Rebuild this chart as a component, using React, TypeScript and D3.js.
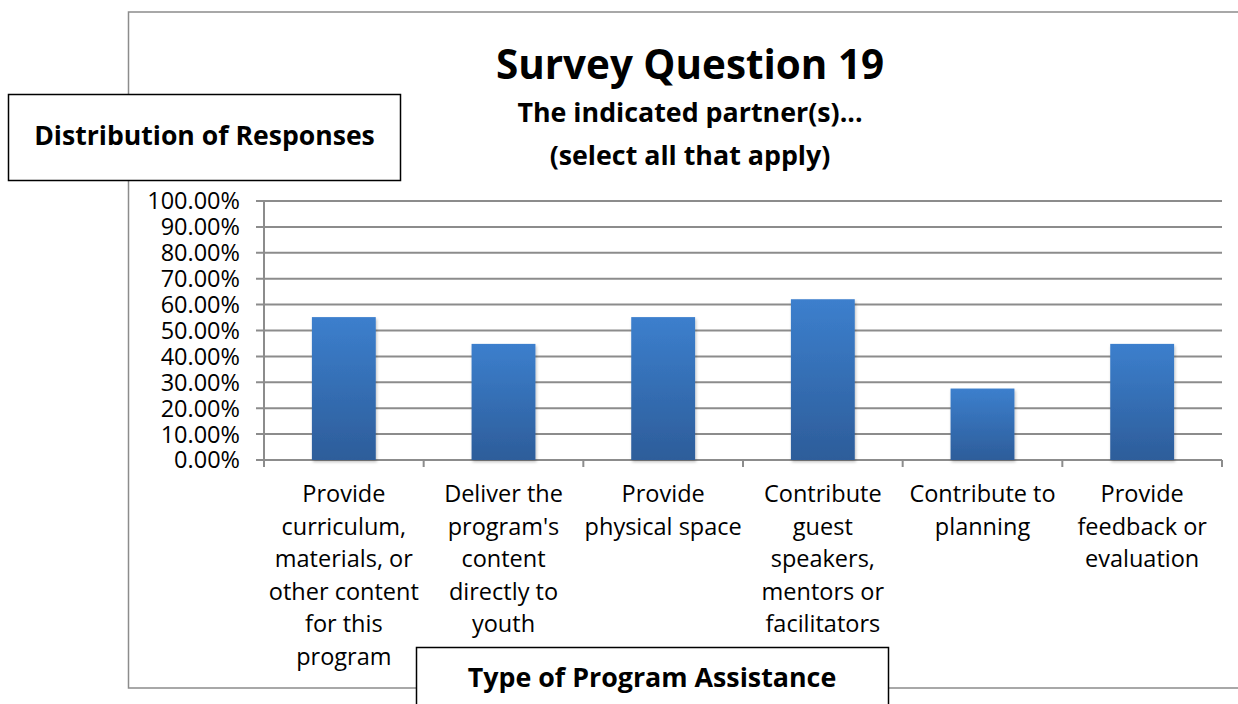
import React from "react";
import * as d3 from "d3";

const categories: string[][] = [
  ["Provide", "curriculum,", "materials, or", "other content", "for this", "program"],
  ["Deliver the", "program's", "content", "directly to", "youth"],
  ["Provide", "physical space"],
  ["Contribute", "guest", "speakers,", "mentors or", "facilitators"],
  ["Contribute to", "planning"],
  ["Provide", "feedback or", "evaluation"],
];
const values: number[] = [0.5517, 0.4483, 0.5517, 0.6207, 0.2759, 0.4483];
const yTicks: number[] = [0, 0.1, 0.2, 0.3, 0.4, 0.5, 0.6, 0.7, 0.8, 0.9, 1.0];
const title = "Survey Question 19";
const subtitle = ["The indicated partner(s)...", "(select all that apply)"];
const yTitle = "Distribution of Responses";
const xTitle = "Type of Program Assistance";

const W = 1238;
const H = 704;
const FONT = "'Open Sans', Lato, sans-serif";

export default function App() {
  const plotL = 264, plotR = 1222, plotT = 201, plotB = 460;
  const x = d3.scaleBand<number>().domain(d3.range(values.length)).range([plotL, plotR]).paddingInner(0.6).paddingOuter(0.3);
  const xs = d3.scaleBand<number>().domain(d3.range(values.length)).range([plotL, plotR]);
  const y = d3.scaleLinear().domain([0, 1]).range([plotB, plotT]);
  const fmt = d3.format(".2%");
  const gray = "#8c8c8c";

  return (
    <svg width={W} height={H} style={{ position: "absolute", left: 0, top: 0, background: "#fff" }} fontFamily={FONT}>
      <defs>
        <linearGradient id="barGrad" x1="0" y1="0" x2="0" y2="1">
          <stop offset="0%" stopColor="#3c7fcd" />
          <stop offset="100%" stopColor="#2d5d9a" />
        </linearGradient>
        <filter id="shadow" x="-20%" y="-10%" width="140%" height="130%">
          <feDropShadow dx="1" dy="2" stdDeviation="1.5" floodColor="#000" floodOpacity="0.25" />
        </filter>
      </defs>
      <rect x={0} y={0} width={W} height={H} fill="#fff" />
      <path d={`M1240,12 L128.5,12 L128.5,688 L1240,688`} fill="none" stroke={gray} strokeWidth={1.5} />

      {yTicks.map((t) => (
        <line key={"g" + t} x1={plotL - 8} x2={plotR} y1={y(t)} y2={y(t)} stroke={gray} strokeWidth={2} />
      ))}
      <line x1={plotL} x2={plotL} y1={plotT} y2={plotB + 7} stroke={gray} strokeWidth={2} />
      {d3.range(values.length + 1).map((i) => {
        const xv = i < values.length ? (xs(i) as number) : plotR;
        return <line key={"xt" + i} x1={xv} x2={xv} y1={plotB} y2={plotB + 7} stroke={gray} strokeWidth={2} />;
      })}
      {yTicks.map((t) => (
        <text key={"yl" + t} x={240} y={y(t)} dy="0.36em" textAnchor="end" fontSize={23.5} fill="#000">
          {fmt(t)}
        </text>
      ))}
      {values.map((v, i) => (
        <rect key={"b" + i} x={x(i)} y={y(v)} width={x.bandwidth()} height={plotB - y(v)} fill="url(#barGrad)" filter="url(#shadow)" />
      ))}
      {categories.map((lines, i) => {
        const cx = (xs(i) as number) + xs.bandwidth() / 2;
        return (
          <text key={"c" + i} textAnchor="middle" fontSize={23.5} fill="#000">
            {lines.map((ln, j) => (
              <tspan key={j} x={cx} y={502 + j * 32.6}>
                {ln}
              </tspan>
            ))}
          </text>
        );
      })}
      <text x={690} y={79} textAnchor="middle" fontSize={40.4} fontWeight="bold" fill="#000">
        {title}
      </text>
      {subtitle.map((s, i) => (
        <text key={"s" + i} x={690} y={121.5 + i * 43} textAnchor="middle" fontSize={26.8} fontWeight="bold" fill="#000">
          {s}
        </text>
      ))}
      <rect x={8.5} y={94.5} width={392} height={86} fill="#fff" stroke="#000" strokeWidth={1.5} />
      <text x={204.5} y={136} dy="0.35em" textAnchor="middle" fontSize={26.6} fontWeight="bold" fill="#000">
        {yTitle}
      </text>
      <rect x={416.5} y={647.5} width={472} height={70} fill="#fff" stroke="#000" strokeWidth={1.5} />
      <text x={652} y={678} dy="0.35em" textAnchor="middle" fontSize={26.8} fontWeight="bold" fill="#000">
        {xTitle}
      </text>
    </svg>
  );
}
